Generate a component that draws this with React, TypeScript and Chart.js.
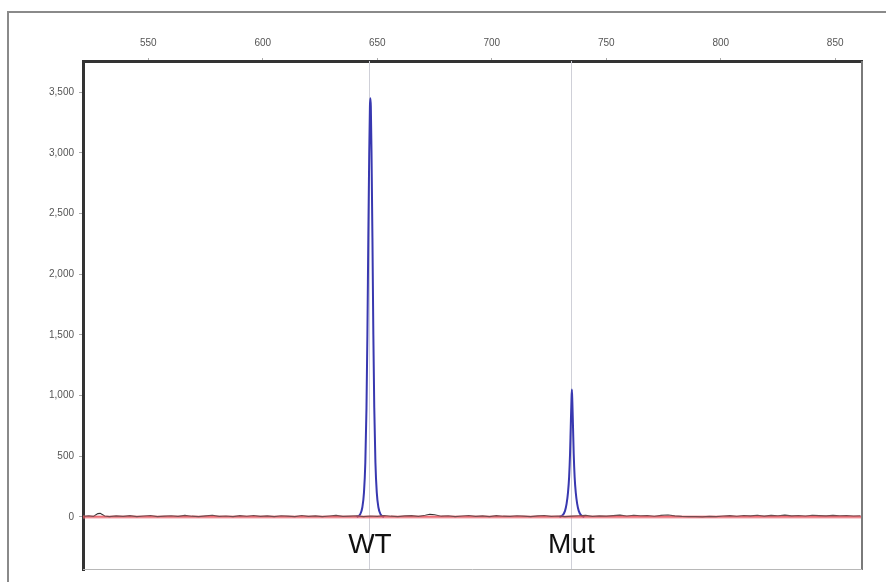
import React, { useEffect, useRef } from "react";
import { Chart, registerables } from "chart.js";

Chart.register(...registerables);

// Size axis (bp) and signal axis (RFU)
const xMin = 521.5;
const xMax = 861.7;
const yMin = -437;
const yMax = 3756;
const xTicks = [550, 600, 650, 700, 750, 800, 850];
const yTicks = [0, 500, 1000, 1500, 2000, 2500, 3000, 3500];

// Allele bins
const binPositions = [646.6, 734.6];
const alleleLabels = ["WT", "Mut"];
const alleleLabelX = [646.8, 734.8];
const alleleLabelY = -300;

// Blue dye trace: WT peak
const wtX = [641, 642.5, 643.5, 644.2, 644.8, 645.3, 645.7, 646.1, 646.5, 646.8, 647, 647.2, 647.5, 647.9, 648.3, 648.7, 649.2, 649.8, 650.5, 651.5, 653];
const wtY = [0, 20, 80, 200, 450, 900, 1500, 2300, 3000, 3380, 3450, 3380, 3000, 2300, 1500, 900, 450, 200, 80, 20, 0];

// Blue dye trace: Mut peak
const mutX = [729.5, 731, 732, 732.7, 733.3, 733.8, 734.2, 734.5, 734.8, 735, 735.2, 735.5, 735.8, 736.2, 736.7, 737.3, 738, 739, 740.5];
const mutY = [0, 15, 50, 110, 200, 330, 520, 740, 950, 1050, 950, 740, 520, 330, 200, 110, 50, 15, 0];

// Black dye baseline noise
const noiseX = [522, 524, 526, 528, 529, 531, 533, 536, 539, 542, 545, 548, 551, 554, 557, 560, 563, 566, 569, 572, 575, 578, 581, 584, 587, 590, 593, 596, 599, 602, 605, 608, 611, 614, 617, 620, 623, 626, 629, 632, 635, 638, 641, 644, 647, 650, 653, 656, 659, 662, 665, 668, 671, 673, 675, 678, 681, 684, 687, 690, 693, 696, 699, 702, 705, 708, 711, 714, 717, 720, 723, 726, 729, 732, 735, 738, 741, 744, 747, 750, 753, 756, 759, 762, 765, 768, 771, 774, 777, 780, 783, 786, 789, 792, 795, 798, 801, 804, 807, 810, 813, 816, 819, 822, 825, 828, 831, 834, 837, 840, 843, 846, 849, 852, 855, 858, 861];
const noiseY = [6, 10, 4, 28, 30, 8, 2, 9, 4, 11, 3, 8, 12, 2, 7, 10, 4, 13, 6, 2, 9, 14, 5, 8, 3, 11, 6, 12, 4, 9, 2, 10, 7, 3, 12, 5, 9, 2, 8, 13, 4, 7, 10, 3, 8, 5, 12, 6, 3, 9, 11, 4, 14, 22, 18, 6, 10, 3, 8, 12, 5, 9, 2, 11, 6, 4, 10, 7, 3, 9, 12, 5, 8, 2, 6, 10, 13, 4, 9, 7, 11, 15, 8, 14, 10, 12, 6, 13, 16, 9, 4, 2, 3, 1, 5, 2, 8, 11, 6, 12, 9, 14, 7, 13, 10, 15, 9, 12, 8, 14, 11, 9, 13, 10, 12, 8, 10];

// Red dye trace (flat)
const redX = [xMin, xMax];
const redY = [0, 0];

const toPoints = (xs: number[], ys: number[]) => xs.map((x, i) => ({ x, y: ys[i] }));

const framePlugin = {
  id: "frame",
  beforeDraw(chart: any) {
    const { ctx, width, height } = chart;
    ctx.save();
    ctx.fillStyle = "#ffffff";
    ctx.fillRect(0, 0, width, height);
    ctx.strokeStyle = "#8a8a8a";
    ctx.lineWidth = 2;
    ctx.strokeRect(8, 12, width + 10, height + 10);
    ctx.restore();
  },
  beforeDatasetsDraw(chart: any) {
    const { ctx, chartArea, scales } = chart;
    ctx.save();
    ctx.strokeStyle = "#cfd0d8";
    ctx.lineWidth = 1;
    binPositions.forEach((b) => {
      const px = Math.round(scales.x.getPixelForValue(b)) + 0.5;
      ctx.beginPath();
      ctx.moveTo(px, chartArea.top);
      ctx.lineTo(px, chartArea.bottom);
      ctx.stroke();
    });
    ctx.restore();
  },
  afterDraw(chart: any) {
    const { ctx, chartArea, scales } = chart;
    ctx.save();
    // right and bottom edges of the plot box
    ctx.strokeStyle = "#7a7a7a";
    ctx.lineWidth = 2;
    ctx.beginPath();
    ctx.moveTo(chartArea.right, chartArea.top);
    ctx.lineTo(chartArea.right, chartArea.bottom);
    ctx.stroke();
    ctx.strokeStyle = "#b8b8b8";
    ctx.lineWidth = 1;
    ctx.beginPath();
    ctx.moveTo(chartArea.left, chartArea.bottom - 0.5);
    ctx.lineTo(chartArea.right, chartArea.bottom - 0.5);
    ctx.stroke();
    // allele labels
    ctx.fillStyle = "#111111";
    ctx.font = "28px 'Liberation Sans', Arial, sans-serif";
    ctx.textAlign = "center";
    ctx.textBaseline = "alphabetic";
    alleleLabels.forEach((t, i) => {
      ctx.fillText(t, scales.x.getPixelForValue(alleleLabelX[i]), scales.y.getPixelForValue(alleleLabelY));
    });
    ctx.restore();
  },
};

export default function App() {
  const ref = useRef<HTMLCanvasElement | null>(null);

  useEffect(() => {
    if (!ref.current) return;
    const chart = new Chart(ref.current, {
      type: "line",
      data: {
        datasets: [
          {
            label: "Red",
            data: toPoints(redX, redY),
            borderColor: "rgba(240, 120, 130, 0.35)",
            borderWidth: 4,
            pointRadius: 0,
          },
          {
            label: "Black",
            data: toPoints(noiseX, noiseY),
            borderColor: "#333333",
            borderWidth: 1.2,
            pointRadius: 0,
            tension: 0,
          },
          {
            label: "Red core",
            data: toPoints(redX, redY),
            borderColor: "#e0303c",
            borderWidth: 1.2,
            pointRadius: 0,
          },
          {
            label: "WT",
            data: toPoints(wtX, wtY),
            borderColor: "#3838b0",
            borderWidth: 2,
            pointRadius: 0,
            cubicInterpolationMode: "monotone",
          },
          {
            label: "Mut",
            data: toPoints(mutX, mutY),
            borderColor: "#3838b0",
            borderWidth: 2,
            pointRadius: 0,
            cubicInterpolationMode: "monotone",
          },
        ],
      },
      options: {
        animation: false,
        responsive: false,
        layout: { padding: { left: 0, top: 0, right: 24, bottom: 12 } },
        plugins: { legend: { display: false }, tooltip: { enabled: false } },
        scales: {
          x: {
            type: "linear",
            position: "top",
            min: xMin,
            max: xMax,
            afterFit: (s: any) => {
              s.height = 61;
            },
            afterBuildTicks: (s: any) => {
              s.ticks = xTicks.map((v) => ({ value: v }));
            },
            grid: { display: true, drawOnChartArea: false, tickLength: 3, color: "#aaaaaa" },
            border: { display: true, color: "#333333", width: 3 },
            ticks: {
              color: "#555555",
              font: { family: "'Liberation Sans', Arial, sans-serif", size: 10 },
              padding: 9,
              maxRotation: 0,
              callback: (v: any) => String(v),
            },
          },
          y: {
            type: "linear",
            min: yMin,
            max: yMax,
            afterFit: (s: any) => {
              s.width = 83;
            },
            afterBuildTicks: (s: any) => {
              s.ticks = yTicks.map((v) => ({ value: v }));
            },
            grid: { display: true, drawOnChartArea: false, tickLength: 4, color: "#aaaaaa" },
            border: { display: true, color: "#333333", width: 3 },
            ticks: {
              color: "#555555",
              font: { family: "'Liberation Sans', Arial, sans-serif", size: 10 },
              padding: 5,
              callback: (v: any) => Number(v).toLocaleString("en-US"),
            },
          },
        },
      },
      plugins: [framePlugin],
    });
    return () => chart.destroy();
  }, []);

  return (
    <div style={{ position: "fixed", left: 0, top: 0, width: 886, height: 582 }}>
      <canvas ref={ref} width={886} height={582} style={{ display: "block", width: 886, height: 582 }} />
    </div>
  );
}
